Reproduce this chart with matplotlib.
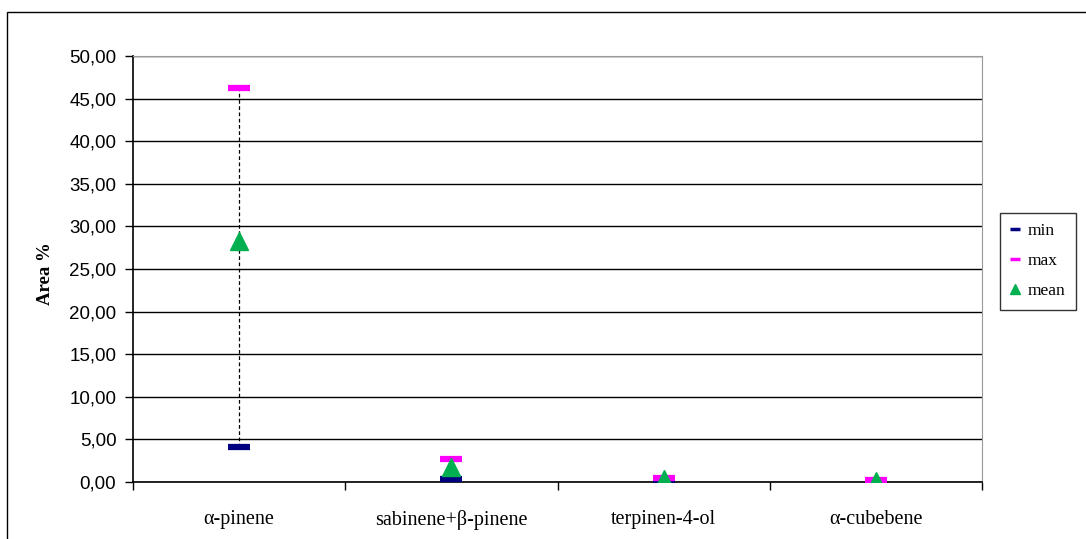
import matplotlib
matplotlib.use("Agg")
import matplotlib.pyplot as plt
from matplotlib.patches import Rectangle
from matplotlib.ticker import FuncFormatter, MultipleLocator

categories = ["α-pinene", "sabinene+β-pinene", "terpinen-4-ol", "α-cubebene"]
min_vals = [4.13, 0.40, 0.10, 0.02]
max_vals = [46.30, 2.65, 0.43, 0.20]
mean_vals = [28.30, 1.80, 0.30, 0.10]

W, H = 1086, 539
fig = plt.figure(figsize=(W / 100, H / 100), dpi=100)
fig.patches.append(Rectangle((7 / W, -0.1), (1086 - 7) / W + 0.1, 1 - 12 / H + 0.1,
                             transform=fig.transFigure, fill=False, edgecolor="black", lw=1.0))

ax = fig.add_axes([133 / W, 1 - 482 / H, (982 - 133) / W, (482 - 56) / H])
xs = [i + 0.5 for i in range(len(categories))]

ax.vlines(xs, min_vals, max_vals, colors="black", linestyles=(0, (3, 2)), lw=0.9, zorder=2)
ax.plot(xs, min_vals, ls="none", marker="_", ms=16, mew=4.5, color="#000080", label="min", zorder=3)
ax.plot(xs, max_vals, ls="none", marker="_", ms=16, mew=4.5, color="#FF00FF", label="max", zorder=3)
ax.plot(xs, mean_vals, ls="none", marker="^", ms=13, color="#00B050", label="mean", zorder=4)

ax.set_xlim(0, 4)
ax.set_ylim(0, 50)
ax.yaxis.set_major_locator(MultipleLocator(5))
ax.yaxis.set_major_formatter(FuncFormatter(lambda v, p: f"{v:.2f}".replace(".", ",")))
ax.set_xticks([0, 1, 2, 3, 4])
ax.set_xticklabels([])
ax.set_xticks(xs, minor=True)
ax.set_xticklabels(categories, minor=True, family="Liberation Serif", fontsize=14.5)
ax.tick_params(axis="x", which="minor", length=0, pad=20)
ax.tick_params(axis="x", which="major", direction="out", length=6, width=1)
ax.tick_params(axis="y", direction="out", length=6, width=1, pad=6)
for lab in ax.get_yticklabels():
    lab.set_family("Liberation Sans")
    lab.set_fontsize(13.5)
ax.grid(axis="y", color="black", lw=1.0)
ax.set_axisbelow(True)
for s in ["top", "right"]:
    ax.spines[s].set_color("#999999")
for s in ["left", "bottom"]:
    ax.spines[s].set_color("black")
    ax.spines[s].set_linewidth(1.2)
ax.set_ylabel("Area %", family="Liberation Serif", fontweight="bold", fontsize=13.5,
              va="center", ha="center")
ax.yaxis.set_label_coords((45 - 133) / (982 - 133), (482 - 274) / (482 - 56))

leg = fig.legend(loc="upper left", bbox_to_anchor=(991 / W, 1 - 204 / H),
                 prop={"family": "Liberation Serif", "size": 12.5},
                 frameon=True, fancybox=False, edgecolor="black",
                 handlelength=0.6, handletextpad=0.4, labelspacing=0.8, borderpad=0.6,
                 markerscale=0.6)
leg.get_frame().set_linewidth(1.0)
for h in leg.legend_handles[:2]:
    h.set_markeredgewidth(2.5)
    h.set_markersize(7)

fig.savefig("out.png", dpi=100)
